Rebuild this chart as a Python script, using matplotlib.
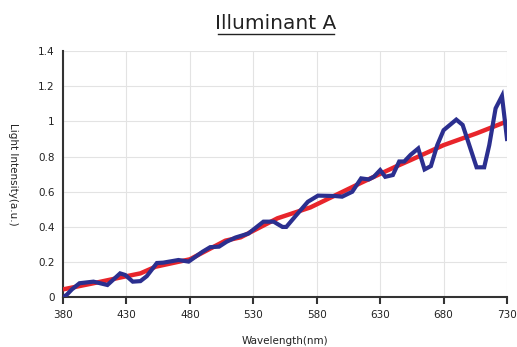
import matplotlib
matplotlib.use("Agg")
import matplotlib.pyplot as plt
from matplotlib.lines import Line2D

# Blue measured spectrum (nm, intensity)
blue_wl = [380, 383, 387, 393, 404, 415, 425, 429, 435, 441, 446, 454, 459, 471, 479,
           490, 496, 503, 509, 516, 526, 538, 546, 553, 556, 564, 573, 581, 594, 600,
           608, 615, 621, 625, 630, 634, 640, 645, 649, 654, 660, 665, 670, 675, 680,
           690, 695, 706, 712, 716, 721, 726, 730]
blue_val = [0.00, 0.015, 0.045, 0.08, 0.089, 0.07, 0.136, 0.127, 0.089, 0.092, 0.12, 0.195,
            0.197, 0.212, 0.203, 0.259, 0.285, 0.288, 0.316, 0.340, 0.362, 0.43, 0.43, 0.40,
            0.40, 0.468, 0.543, 0.578, 0.576, 0.572, 0.60, 0.676, 0.670, 0.685, 0.723, 0.685,
            0.695, 0.772, 0.772, 0.81, 0.846, 0.727, 0.746, 0.865, 0.95, 1.01, 0.98, 0.739,
            0.739, 0.865, 1.074, 1.144, 0.90]

# Red reference curve (Illuminant A)
red_wl = [380, 404, 430, 441, 453, 480, 508, 520, 549, 575, 587, 615, 642, 654, 680, 706, 730]
red_val = [0.045, 0.08, 0.12, 0.136, 0.174, 0.216, 0.322, 0.341, 0.449, 0.511, 0.553,
           0.651, 0.742, 0.78, 0.865, 0.932, 1.0]

x_ticks = [380, 430, 480, 530, 580, 630, 680, 730]
y_ticks = [0, 0.2, 0.4, 0.6, 0.8, 1.0, 1.2, 1.4]
y_ticklabels = ["0", "0.2", "0.4", "0.6", "0.8", "1", "1.2", "1.4"]

fig = plt.figure(figsize=(5.17, 3.47), dpi=100)
ax = fig.add_axes([0.1219, 0.1432, 0.8588, 0.7098])

ax.plot(red_wl, red_val, color="#e8252b", lw=3.2, solid_capstyle="butt", zorder=3)
ax.plot(blue_wl, blue_val, color="#2b2f8f", lw=3.0, solid_joinstyle="miter", zorder=4)

ax.set_xlim(380, 730)
ax.set_ylim(0, 1.4)
ax.set_xticks(x_ticks)
ax.set_xticklabels([str(v) for v in x_ticks], fontsize=7.5, color="#222222")
ax.set_yticks(y_ticks)
ax.set_yticklabels(y_ticklabels, fontsize=7.5, color="#222222")
ax.set_yticks([0, 1.4], minor=True)
ax.grid(True, which="major", color="#e3e3e3", lw=0.8)
ax.set_axisbelow(True)
for s in ["top", "right"]:
    ax.spines[s].set_visible(False)
for s in ["left", "bottom"]:
    ax.spines[s].set_color("#333333")
    ax.spines[s].set_linewidth(1.5)
ax.tick_params(axis="x", length=5, width=1.5, color="#333333", pad=4)
ax.tick_params(axis="y", which="major", length=0, pad=6)
ax.tick_params(axis="y", which="minor", length=5, width=1.3, color="#333333")

ax.set_xlabel("Wavelength(nm)", fontsize=7.5, color="#222222", labelpad=12)
ax.set_ylabel("Light Intensity(a.u.)", fontsize=7.5, color="#222222", rotation=270,
              va="center")
ax.yaxis.set_label_coords(-0.112, 0.5)

fig.text(0.534, 0.915, "Illuminant A", ha="center", va="baseline", fontsize=14.5,
         color="#222222")
fig.add_artist(Line2D([0.421, 0.647], [0.903, 0.903], color="#222222", lw=1.0,
                      transform=fig.transFigure))

fig.savefig("out.png", dpi=100)
